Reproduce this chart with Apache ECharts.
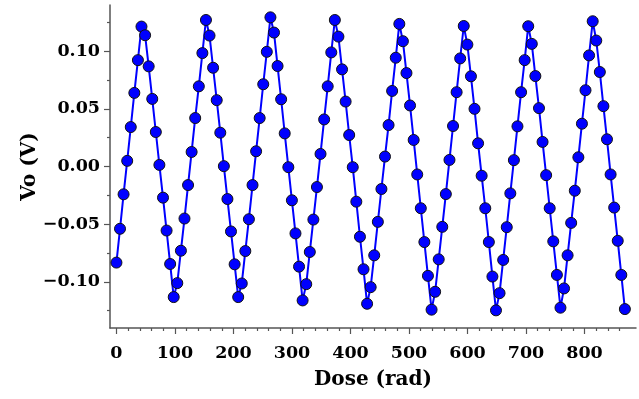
<!DOCTYPE html>
<html>
<head>
<meta charset="utf-8">
<script src="https://cdn.jsdelivr.net/npm/echarts@6/dist/echarts.min.js"></script>
<style>html,body{margin:0;padding:0;background:#fff;}#c{width:639px;height:399px;}</style>
</head>
<body>
<div id="c"></div>
<script>
// Dose (rad) values of each sample
const doseValues = [0,6.1,12.2,18.4,24.5,30.6,36.7,42.8,49.0,55.1,61.2,67.3,73.4,79.6,85.7,91.8,97.9,104.0,110.2,116.3,
122.4,128.5,134.6,140.8,146.9,153.0,159.1,165.2,171.4,177.5,183.6,189.7,195.8,202.0,208.1,214.2,220.3,226.4,232.6,238.7,
244.8,250.9,257.0,263.2,269.3,275.4,281.5,287.6,293.8,299.9,306.0,312.1,318.2,324.4,330.5,336.6,342.7,348.8,355.0,361.1,
367.2,373.3,379.4,385.6,391.7,397.8,403.9,410.0,416.2,422.3,428.4,434.5,440.6,446.8,452.9,459.0,465.1,471.2,477.4,483.5,
489.6,495.7,501.8,508.0,514.1,520.2,526.3,532.4,538.6,544.7,550.8,556.9,563.0,569.2,575.3,581.4,587.5,593.6,599.8,605.9,
612.0,618.1,624.2,630.4,636.5,642.6,648.7,654.8,661.0,667.1,673.2,679.3,685.4,691.6,697.7,703.8,709.9,716.0,722.2,728.3,
734.4,740.5,746.6,752.8,758.9,765.0,771.1,777.2,783.4,789.5,795.6,801.7,807.8,814.0,820.1,826.2,832.3,838.4,844.6,850.7,
856.8,862.9,869.0];
// Vo (V) values of each sample
const voValues = [-0.0833,-0.0540,-0.0241,0.0049,0.0342,0.0638,0.0922,0.1213,0.1138,0.0868,0.0586,0.0299,0.0014,-0.0270,-0.0555,-0.0845,-0.1132,-0.1011,-0.0730,-0.0451,
-0.0161,0.0126,0.0420,0.0695,0.0983,0.1270,0.1135,0.0856,0.0575,0.0293,0.0003,-0.0282,-0.0563,-0.0848,-0.1132,-0.1014,-0.0733,-0.0457,-0.0161,0.0132,
0.0420,0.0713,0.0994,0.1293,0.1161,0.0871,0.0583,0.0287,-0.0006,-0.0293,-0.0580,-0.0868,-0.1161,-0.1020,-0.0741,-0.0460,-0.0178,0.0109,0.0408,0.0695,
0.0989,0.1270,0.1126,0.0842,0.0563,0.0273,-0.0006,-0.0305,-0.0609,-0.0891,-0.1190,-0.1046,-0.0770,-0.0480,-0.0195,0.0086,0.0359,0.0655,0.0943,0.1236,
0.1086,0.0810,0.0529,0.0230,-0.0069,-0.0362,-0.0655,-0.0948,-0.1241,-0.1086,-0.0805,-0.0523,-0.0239,0.0057,0.0351,0.0644,0.0937,0.1218,0.1057,0.0782,
0.0500,0.0201,-0.0080,-0.0362,-0.0655,-0.0954,-0.1247,-0.1098,-0.0810,-0.0526,-0.0233,0.0055,0.0348,0.0644,0.0922,0.1216,0.1063,0.0784,0.0506,0.0213,
-0.0075,-0.0362,-0.0649,-0.0940,-0.1224,-0.1057,-0.0770,-0.0489,-0.0210,0.0080,0.0371,0.0661,0.0963,0.1259,0.1092,0.0819,0.0523,0.0236,-0.0069,-0.0356,
-0.0644,-0.0940,-0.1236];
// tick values
const xMajorTicks = [0,100,200,300,400,500,600,700,800];
const xMinorTicks = [20,40,60,80,120,140,160,180,220,240,260,280,320,340,360,380,420,440,460,480,520,540,560,580,620,640,660,680,720,740,760,780,820,840,860];
const yMajorTicks = [-0.10,-0.05,0.00,0.05,0.10];
const yMinorTicks = [-0.125,-0.075,-0.025,0.025,0.075,0.125];

const FONT = 'DejaVu Serif';
const axisCol = '#555';
const chart = echarts.init(document.getElementById('c'), null, {renderer:'canvas'});
const pts = doseValues.map((x,i)=>[x, voValues[i]]);
function fmtY(v){ const s = Math.abs(v).toFixed(2); return (v < -1e-9 ? '\u2212' : '') + s; }
chart.setOption({
  animation:false,
  backgroundColor:'#fff',
  grid:{left:110,right:3,top:5,bottom:71,containLabel:false},
  xAxis:[{
    type:'value', min:-11, max:888, position:'bottom',
    name:'Dose (rad)', nameLocation:'middle', nameGap:42, nameMoveOverlap:false,
    nameTextStyle:{fontFamily:FONT,fontWeight:'bold',fontSize:20,color:'#000'},
    axisLine:{show:true,onZero:false,lineStyle:{color:axisCol,width:1.5}},
    axisTick:{show:true,customValues:xMajorTicks,length:6,lineStyle:{color:axisCol,width:1.2}},
    axisLabel:{customValues:xMajorTicks,margin:16,fontFamily:FONT,fontWeight:'bold',fontSize:17.5,color:'#000'},
    splitLine:{show:false}
  },{
    type:'value', min:-11, max:888, position:'bottom', offset:0,
    axisLine:{show:false,onZero:false},
    axisTick:{show:true,customValues:xMinorTicks,length:3,lineStyle:{color:axisCol,width:1.2}},
    axisLabel:{show:false},
    splitLine:{show:false}
  }],
  yAxis:[{
    type:'value', min:-0.14, max:0.14, position:'left',
    name:'Vo (V)', nameLocation:'middle', nameGap:70, nameRotate:90, nameMoveOverlap:false,
    nameTextStyle:{fontFamily:FONT,fontWeight:'bold',fontSize:20,color:'#000'},
    axisLine:{show:true,onZero:false,lineStyle:{color:axisCol,width:1.5}},
    axisTick:{show:true,customValues:yMajorTicks,length:6,lineStyle:{color:axisCol,width:1.2}},
    axisLabel:{customValues:yMajorTicks,margin:10,formatter:fmtY,fontFamily:FONT,fontWeight:'bold',fontSize:17.5,color:'#000'},
    splitLine:{show:false}
  },{
    type:'value', min:-0.14, max:0.14, position:'left', offset:0,
    axisLine:{show:false,onZero:false},
    axisTick:{show:true,customValues:yMinorTicks,length:3,lineStyle:{color:axisCol,width:1.2}},
    axisLabel:{show:false},
    splitLine:{show:false}
  }],
  series:[{
    type:'line', xAxisIndex:0, yAxisIndex:0, data:pts,
    symbol:'circle', symbolSize:11,
    lineStyle:{color:'#0000ff',width:2},
    itemStyle:{color:'#0000ff',borderColor:'#111',borderWidth:1}
  }]
});
</script>
</body>
</html>
